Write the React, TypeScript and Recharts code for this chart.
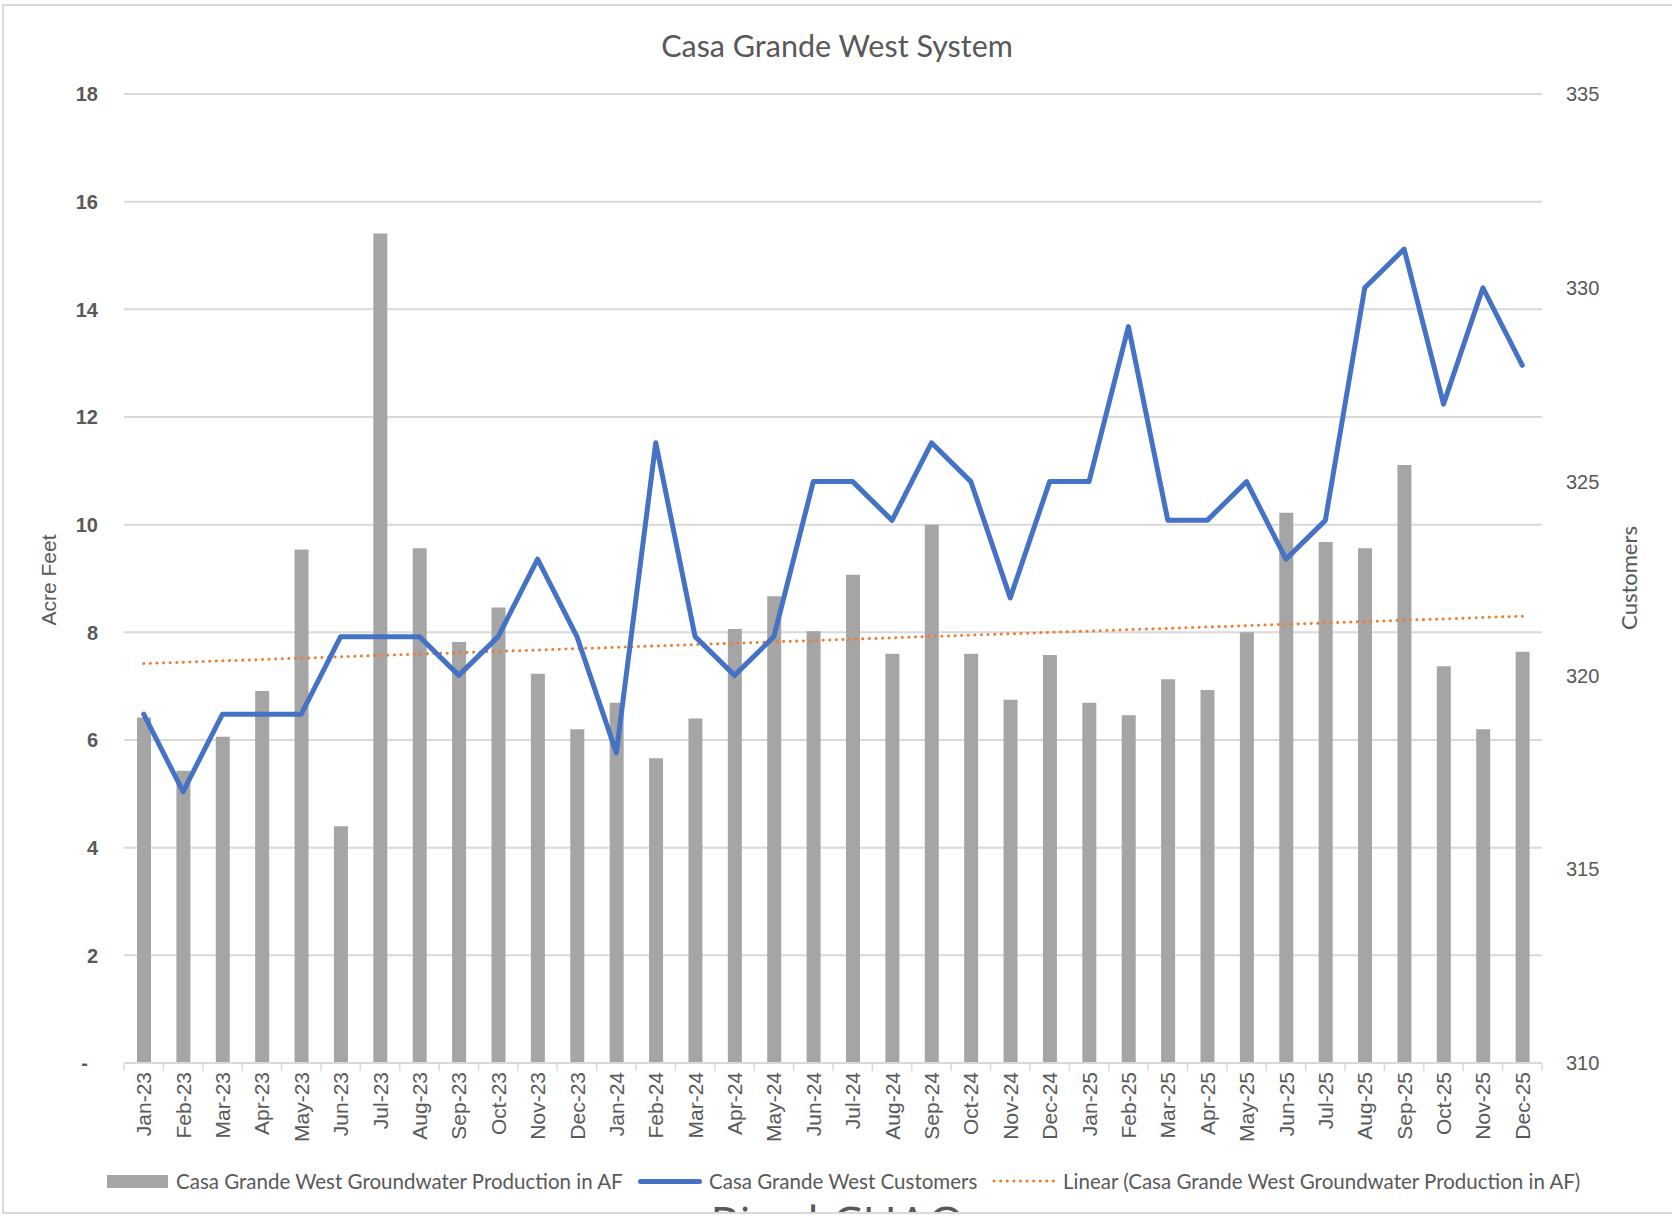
import {
  ComposedChart,
  Bar,
  Line,
  XAxis,
  YAxis,
  CartesianGrid,
  ReferenceLine,
} from "recharts";

const months = [
  "Jan-23", "Feb-23", "Mar-23", "Apr-23", "May-23", "Jun-23",
  "Jul-23", "Aug-23", "Sep-23", "Oct-23", "Nov-23", "Dec-23",
  "Jan-24", "Feb-24", "Mar-24", "Apr-24", "May-24", "Jun-24",
  "Jul-24", "Aug-24", "Sep-24", "Oct-24", "Nov-24", "Dec-24",
  "Jan-25", "Feb-25", "Mar-25", "Apr-25", "May-25", "Jun-25",
  "Jul-25", "Aug-25", "Sep-25", "Oct-25", "Nov-25", "Dec-25",
];

// groundwater production, acre feet
const production = [
  6.42, 5.43, 6.06, 6.91, 9.54, 4.4,
  15.41, 9.56, 7.82, 8.46, 7.23, 6.2,
  6.69, 5.66, 6.4, 8.06, 8.67, 8.02,
  9.07, 7.6, 10.0, 7.6, 6.75, 7.58,
  6.69, 6.46, 7.13, 6.93, 8.0, 10.22,
  9.68, 9.56, 11.11, 7.37, 6.2, 7.64,
];

const customers = [
  319, 317, 319, 319, 319, 321,
  321, 321, 320, 321, 323, 321,
  318, 326, 321, 320, 321, 325,
  325, 324, 326, 325, 322, 325,
  325, 329, 324, 324, 325, 323,
  324, 330, 331, 327, 330, 328,
];

// linear trend end points (acre feet)
const trendStart = 7.42;
const trendEnd = 8.3;

const leftTicks = [0, 2, 4, 6, 8, 10, 12, 14, 16, 18];
const rightTicks = [310, 315, 320, 325, 330, 335];

const W = 1672;
const H = 1218;
const PLOT_LEFT = 124;
const PLOT_RIGHT = 1542;
const PLOT_TOP = 94;
const PLOT_BOTTOM = 1063;
const BAND = (PLOT_RIGHT - PLOT_LEFT) / months.length;

const GREY_TEXT = "#595959";
const GRID = "#D9D9D9";
const BAR = "#A5A5A5";
const BLUE = "#4472C4";
const ORANGE = "#ED7D31";
const ARIAL = "'Liberation Sans', Arial, sans-serif";
const CALIBRI = "Lato, 'Open Sans', sans-serif";

const chartData = months.map((m, i) => ({
  month: m,
  production: production[i],
  customers: customers[i],
}));

function MonthTick(props: any) {
  const { x, payload, index } = props;
  const left = x - BAND / 2;
  return (
    <g>
      <line x1={left} x2={left} y1={PLOT_BOTTOM} y2={PLOT_BOTTOM + 8} stroke={GRID} strokeWidth={1.5} />
      {index === months.length - 1 && (
        <line x1={x + BAND / 2} x2={x + BAND / 2} y1={PLOT_BOTTOM} y2={PLOT_BOTTOM + 8} stroke={GRID} strokeWidth={1.5} />
      )}
      <text
        transform={`translate(${x},${PLOT_BOTTOM + 9}) rotate(-90)`}
        textAnchor="end"
        dy="0.36em"
        fill={GREY_TEXT}
        fontSize={21}
        fontFamily={ARIAL}
      >
        {payload.value}
      </text>
    </g>
  );
}

function LeftTick(props: any) {
  const { y, payload } = props;
  const zero = payload.value === 0;
  return (
    <text
      x={PLOT_LEFT - 26 - (zero ? 10 : 0)}
      y={y}
      dy="0.36em"
      textAnchor="end"
      fill={GREY_TEXT}
      fontSize={20}
      fontWeight={700}
      fontFamily={ARIAL}
    >
      {zero ? "-" : payload.value}
    </text>
  );
}

function RightTick(props: any) {
  const { y, payload } = props;
  return (
    <text
      x={PLOT_RIGHT + 24}
      y={y}
      dy="0.36em"
      textAnchor="start"
      fill={GREY_TEXT}
      fontSize={20}
      fontFamily={ARIAL}
    >
      {payload.value}
    </text>
  );
}

const legendText = {
  position: "absolute" as const,
  top: 1168,
  height: 26,
  lineHeight: "26px",
  fontSize: 20.5,
  fontFamily: CALIBRI,
  color: GREY_TEXT,
  whiteSpace: "nowrap" as const,
};

export default function App() {
  return (
    <div
      style={{
        position: "absolute",
        left: 0,
        top: 0,
        width: W,
        height: H,
        overflow: "hidden",
        background: "#fff",
      }}
    >
      <div style={{ position: "absolute", left: 0, top: 0 }}>
        <ComposedChart
          width={W}
          height={H}
          data={chartData}
          margin={{
            top: PLOT_TOP,
            left: PLOT_LEFT - 60,
            right: W - PLOT_RIGHT - 80,
            bottom: H - PLOT_BOTTOM - 100,
          }}
        >
          <CartesianGrid yAxisId="left" vertical={false} stroke={GRID} strokeWidth={2} />
          <XAxis
            dataKey="month"
            interval={0}
            height={100}
            tickLine={false}
            axisLine={{ stroke: GRID, strokeWidth: 2 }}
            tick={<MonthTick />}
          />
          <YAxis
            yAxisId="left"
            width={60}
            domain={[0, 18]}
            ticks={leftTicks}
            axisLine={false}
            tickLine={false}
            tick={<LeftTick />}
          />
          <YAxis
            yAxisId="right"
            orientation="right"
            width={80}
            domain={[310, 335]}
            ticks={rightTicks}
            axisLine={false}
            tickLine={false}
            tick={<RightTick />}
          />
          <Bar
            yAxisId="left"
            dataKey="production"
            fill={BAR}
            barSize={14}
            isAnimationActive={false}
          />
          <ReferenceLine
            yAxisId="left"
            segment={[
              { x: months[0], y: trendStart },
              { x: months[months.length - 1], y: trendEnd },
            ]}
            stroke={ORANGE}
            strokeWidth={3}
            strokeDasharray="0.1 6.5"
            strokeLinecap="round"
          />
          <Line
            yAxisId="right"
            type="linear"
            dataKey="customers"
            stroke={BLUE}
            strokeWidth={5}
            strokeLinejoin="round"
            strokeLinecap="round"
            dot={false}
            isAnimationActive={false}
          />
        </ComposedChart>
      </div>

      <svg width={W} height={1214} style={{ position: "absolute", left: 0, top: 0 }}>
        <text x={837} y={46} dy="0.36em" textAnchor="middle" fill={GREY_TEXT} fontSize={30.5} fontFamily={CALIBRI}>
          Casa Grande West System
        </text>
        <text
          transform="translate(48,580) rotate(-90)"
          dy="0.36em"
          textAnchor="middle"
          fill={GREY_TEXT}
          fontSize={21}
          fontFamily={ARIAL}
        >
          Acre Feet
        </text>
        <text
          transform="translate(1629,578) rotate(-90)"
          dy="0.36em"
          textAnchor="middle"
          fill={GREY_TEXT}
          fontSize={22}
          fontFamily={CALIBRI}
        >
          Customers
        </text>
        <text x={710} y={1241} fill={GREY_TEXT} fontSize={48} fontFamily="'Open Sans', sans-serif">
          Pinal CHAO
        </text>
      </svg>

      <div style={{ position: "absolute", left: 107, top: 1175, width: 61, height: 13, background: BAR }} />
      <div style={{ ...legendText, left: 176 }}>Casa Grande West Groundwater Production in AF</div>
      <div style={{ position: "absolute", left: 638, top: 1179, width: 64, height: 5, borderRadius: 3, background: BLUE }} />
      <div style={{ ...legendText, left: 709 }}>Casa Grande West Customers</div>
      <svg width={64} height={6} style={{ position: "absolute", left: 992, top: 1178 }}>
        <line x1={2} x2={62} y1={3} y2={3} stroke={ORANGE} strokeWidth={3} strokeDasharray="0.1 6.5" strokeLinecap="round" />
      </svg>
      <div style={{ ...legendText, left: 1063 }}>Linear (Casa Grande West Groundwater Production in AF)</div>

      <div
        style={{
          position: "absolute",
          left: 2,
          top: 4,
          width: W + 20,
          height: 1210,
          border: `2px solid ${GRID}`,
          boxSizing: "border-box",
          pointerEvents: "none",
        }}
      />
    </div>
  );
}
